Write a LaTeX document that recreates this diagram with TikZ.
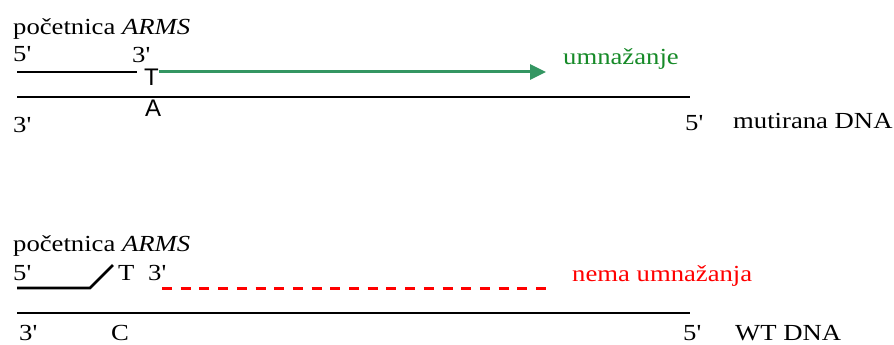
\documentclass[tikz,border=0pt]{standalone}
\usepackage{fontspec}
\setmainfont{Liberation Serif}
\newfontfamily\sansf{Liberation Sans}
\usetikzlibrary{arrows.meta}
\definecolor{arrowgreen}{RGB}{52,150,98}
\definecolor{textgreen}{RGB}{22,138,40}
\newcommand\sx[1]{\scalebox{1.16}[1]{#1}}
\newcommand\pr{\textquotesingle}
\tikzset{
  lbl/.style={anchor=base west, inner sep=0pt, font=\fontsize{23}{25}\selectfont},
  sanslbl/.style={anchor=base west, inner sep=0pt, font=\sansf\fontsize{24}{25}\selectfont},
  strand/.style={line width=2.8pt, black},
  amplify/.style={line width=3pt, arrowgreen, -{Triangle[length=16pt,width=15pt]}},
  noamp/.style={line width=3pt, red, dash pattern=on 10pt off 8.7pt}
}
\begin{document}
\begin{tikzpicture}[x=1pt,y=-1pt]
\useasboundingbox (0,0) rectangle (894,345);
% ---- top: mutated DNA ----
\node[lbl] (p1) at (13,35) {\sx{početnica \textit{ARMS}}};
\node[lbl] (f5a) at (13,62) {\sx{5\pr}};
\node[lbl] (t3a) at (132,63) {\sx{3\pr}};
\node[sanslbl] (T) at (144,85) {T};
\node[sanslbl] (A) at (145,116) {A};
\node[lbl] (b3a) at (13,132) {\sx{3\pr}};
\node[lbl] (b5a) at (685,130) {\sx{5\pr}};
\node[lbl] (mut) at (733,128) {\sx{mutirana DNA}};
\node[lbl, text=textgreen] (umn) at (563,65) {\sx{umnažanje}};
\coordinate (pa1) at (17,72);
\coordinate (pa2) at (137,72);
\coordinate (ta1) at (17,97);
\coordinate (ta2) at (690,97);
\coordinate (ga1) at (159,72);
\coordinate (ga2) at (546,72);
\draw[strand] (pa1) -- (pa2);
\draw[strand] (ta1) -- (ta2);
\draw[amplify] (ga1) -- (ga2);
% ---- bottom: WT DNA ----
\node[lbl] (p2) at (13,251) {\sx{početnica \textit{ARMS}}};
\node[lbl] (f5b) at (13,280) {\sx{5\pr}};
\node[lbl] (Tb) at (118,280) {\sx{T}};
\node[lbl] (t3b) at (148,280) {\sx{3\pr}};
\node[lbl, text=red] (nema) at (572,281) {\sx{nema umnažanja}};
\node[lbl] (b3b) at (19,340) {\sx{3\pr}};
\node[lbl] (C) at (111,340) {\sx{C}};
\node[lbl] (b5b) at (683,340) {\sx{5\pr}};
\node[lbl] (wt) at (735,340) {\sx{WT DNA}};
\coordinate (pb1) at (17,288);
\coordinate (pb2) at (90,288);
\coordinate (pb3) at (113,265);
\coordinate (tb1) at (17,313);
\coordinate (tb2) at (690,313);
\coordinate (rb1) at (162,288);
\coordinate (rb2) at (546,288);
\draw[strand] (pb1) -- (pb2) -- (pb3);
\draw[strand] (tb1) -- (tb2);
\draw[noamp] (rb1) -- (rb2);
\end{tikzpicture}
\end{document}
